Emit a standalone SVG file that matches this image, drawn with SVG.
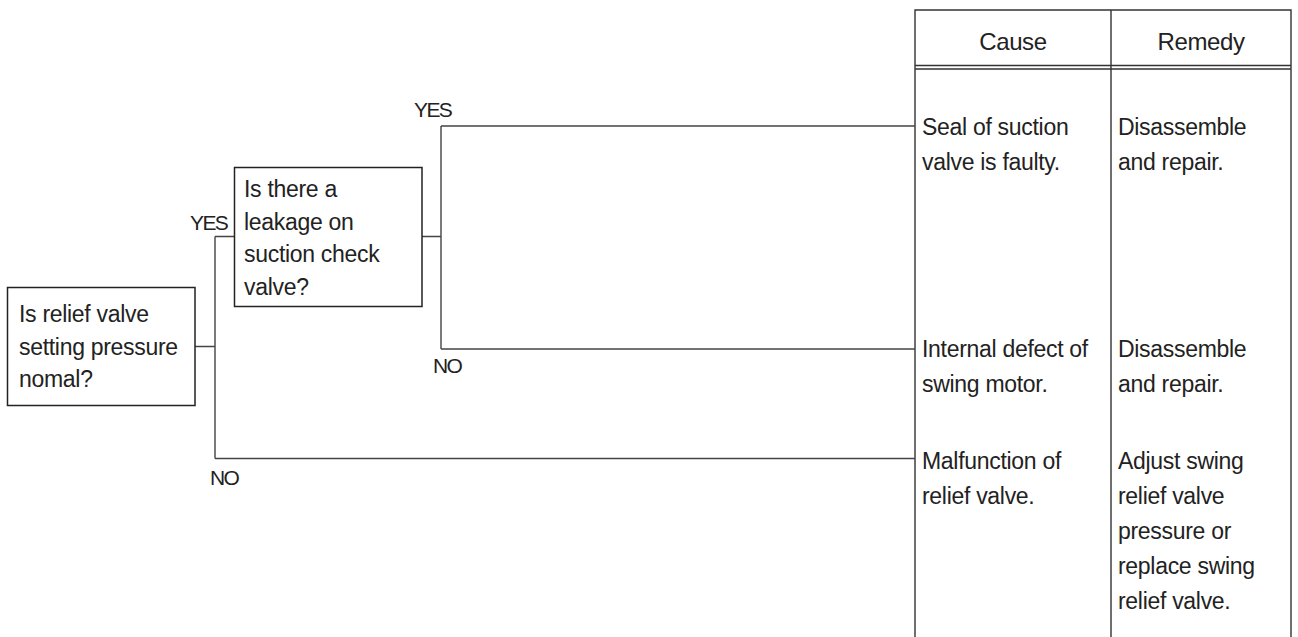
<svg xmlns="http://www.w3.org/2000/svg" width="1298" height="637" viewBox="0 0 1298 637">
<style>
  .box { fill: #fff; stroke: #222; stroke-width: 1.5; }
  .conn { fill: none; stroke: #444; stroke-width: 1.4; }
  .tbl { fill: none; stroke: #333; stroke-width: 1.4; }
  .t { font-family: "Liberation Sans", Arial, sans-serif; font-size: 23px; fill: #222; letter-spacing: -0.3px; }
  .h { font-family: "Liberation Sans", Arial, sans-serif; font-size: 24px; fill: #222; letter-spacing: -0.4px; text-anchor: middle; }
  .lbl { font-family: "Liberation Sans", Arial, sans-serif; font-size: 21px; fill: #222; letter-spacing: -1.6px; }
</style>
<rect width="1298" height="637" fill="#fff"/>

<g id="table">
  <path class="tbl" d="M915 637 V10 H1291 V637 M1111 10 V637 M915 65.5 H1291 M915 69 H1291"/>
  <text class="h" x="1013" y="50">Cause</text>
  <text class="h" x="1201" y="50">Remedy</text>
</g>

<g id="connectors">
  <path class="conn" d="M195 346.5 H215 M215 236.5 V458.5 M215 236.5 H234 M215 458.5 H915 M422 236.5 H441 M441 126 V349 M441 126 H915 M441 349 H915"/>
  <text class="lbl" x="414" y="117">YES</text>
  <text class="lbl" x="190" y="230">YES</text>
  <text class="lbl" x="433" y="373">NO</text>
  <text class="lbl" x="210" y="485">NO</text>
</g>

<g id="q1">
  <rect class="box" x="7.5" y="287.5" width="187.5" height="118"/>
  <text class="t" x="19" y="322">Is relief valve</text>
  <text class="t" x="19" y="354.5">setting pressure</text>
  <text class="t" x="19" y="387">nomal?</text>
</g>

<g id="q2">
  <rect class="box" x="234.5" y="167.5" width="187.5" height="139"/>
  <text class="t" x="244" y="197">Is there a</text>
  <text class="t" x="244" y="229.5">leakage on</text>
  <text class="t" x="244" y="262">suction check</text>
  <text class="t" x="244" y="294.5">valve?</text>
</g>

<g id="r1">
  <text class="t" x="922" y="135">Seal of suction</text>
  <text class="t" x="922" y="170">valve is faulty.</text>
  <text class="t" x="1118" y="135">Disassemble</text>
  <text class="t" x="1118" y="170">and repair.</text>
</g>

<g id="r2">
  <text class="t" x="922" y="357">Internal defect of</text>
  <text class="t" x="922" y="392">swing motor.</text>
  <text class="t" x="1118" y="357">Disassemble</text>
  <text class="t" x="1118" y="392">and repair.</text>
</g>

<g id="r3">
  <text class="t" x="922" y="469">Malfunction of</text>
  <text class="t" x="922" y="504">relief valve.</text>
  <text class="t" x="1118" y="469">Adjust swing</text>
  <text class="t" x="1118" y="504">relief valve</text>
  <text class="t" x="1118" y="539">pressure or</text>
  <text class="t" x="1118" y="574">replace swing</text>
  <text class="t" x="1118" y="609">relief valve.</text>
</g>
</svg>
